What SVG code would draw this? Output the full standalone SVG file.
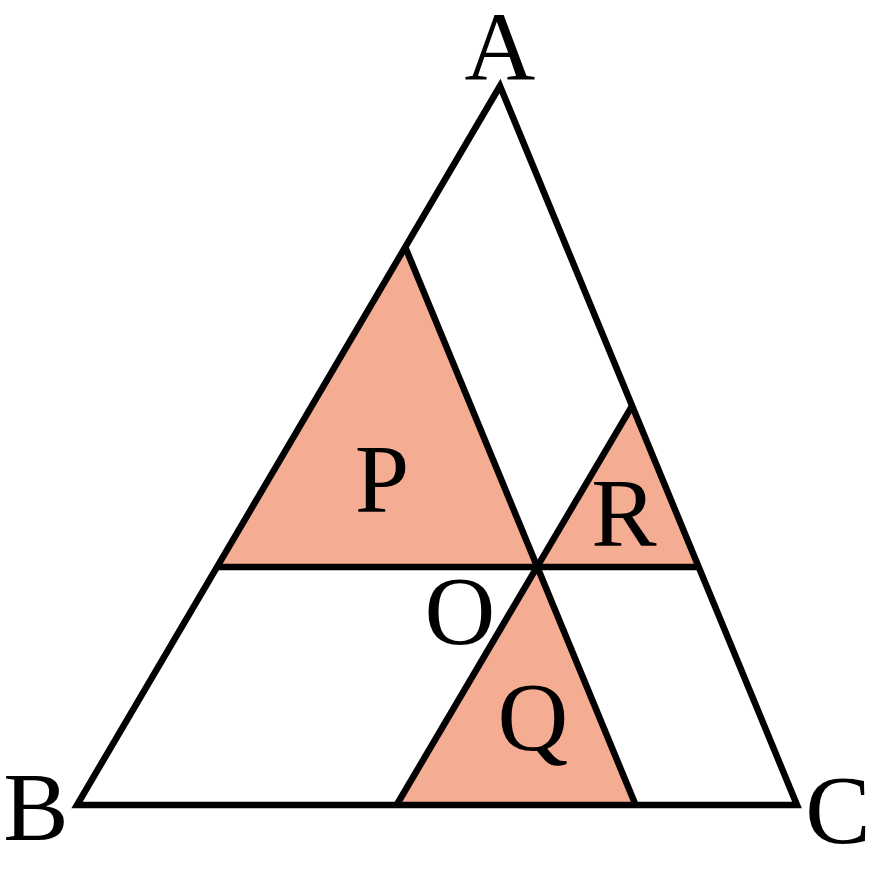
<svg xmlns="http://www.w3.org/2000/svg" width="871" height="871" viewBox="0 0 871 871">
<style>
.s{fill:#F4AC92;stroke:none}
.l{fill:none;stroke:#000;stroke-width:6.5;stroke-linejoin:miter;stroke-linecap:butt}
text{font-family:"Liberation Serif","DejaVu Serif",serif;font-size:98px;fill:#000;text-anchor:middle}
</style>
<rect width="871" height="871" fill="#fff"/>
<g id="shaded">
<polygon id="P-region" class="s" points="405.6,248 217.4,567 537,567"/>
<polygon id="Q-region" class="s" points="537,567 396.6,805 635.6,805"/>
<polygon id="R-region" class="s" points="537,567 631.8,406.3 698.4,567"/>
</g>
<g id="connectors">
<polygon id="triangle-ABC" class="l" points="500,86 77,805 797,805"/>
<line class="l" x1="217.4" y1="567" x2="698.4" y2="567"/>
<line class="l" x1="405.6" y1="248" x2="635.6" y2="805"/>
<line class="l" x1="631.8" y1="406.3" x2="396.6" y2="805"/>
</g>
<g id="labels">
<text x="500" y="79">A</text>
<text x="36" y="840">B</text>
<text x="838" y="843">C</text>
<text x="460" y="644">O</text>
<text x="382" y="512">P</text>
<text x="533" y="750">Q</text>
<text x="624" y="546">R</text>
</g>
</svg>
